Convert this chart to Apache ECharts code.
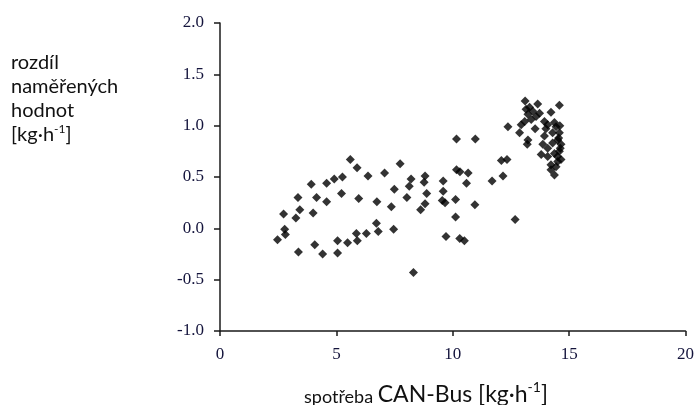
<!DOCTYPE html>
<html>
<head>
<meta charset="utf-8">
<script src="https://cdn.jsdelivr.net/npm/echarts@6/dist/echarts.min.js"></script>
<style>
  html, body { margin: 0; padding: 0; background: #fff; }
  #chart { width: 697px; height: 405px; }
</style>
</head>
<body>
<div id="chart"></div>
<script>
// Fuel consumption reported over CAN-Bus [kg/h]
const spotreba = [
  2.47, 2.78, 2.81, 2.73, 3.35, 3.43, 3.26, 3.37, 4.00, 4.15,
  3.92, 4.07, 4.41, 4.58, 4.58, 4.91, 5.26, 5.22, 5.05, 5.05,
  5.48, 5.60, 5.89, 5.96, 5.86, 5.90, 6.29, 6.36, 6.74, 6.72,
  6.80, 7.07, 7.36, 7.46, 7.49, 7.74, 8.03, 8.21, 8.13, 8.31,
  8.62, 8.81, 8.77, 8.88, 8.81, 9.59, 9.59, 9.55, 9.67, 9.71,
  10.12, 10.12, 10.30, 10.50, 10.16, 10.97, 12.37, 12.09, 12.33, 12.16,
  11.69, 10.16, 10.31, 10.66, 10.59, 10.95, 12.68, 13.11, 13.65, 14.58,
  14.22, 13.15, 13.23, 13.44, 13.73, 12.94, 13.09, 13.37, 13.58, 12.87,
  13.54, 13.94, 14.08, 14.37, 14.44, 13.23, 13.20, 13.94, 14.29, 14.58,
  13.87, 14.08, 14.29, 14.51, 14.65, 13.80, 14.08, 14.37, 14.58, 14.22,
  14.51, 14.65, 14.22, 14.37, 14.44, 14.60, 14.55, 14.62, 14.50, 13.30,
  14.00
];
// Difference of the measured values [kg/h]
const rozdil = [
  -0.11, -0.01, -0.06, 0.14, 0.30, 0.18, 0.10, -0.23, 0.15, 0.30,
  0.43, -0.16, -0.25, 0.44, 0.26, 0.48, 0.50, 0.34, -0.12, -0.24,
  -0.14, 0.67, 0.59, 0.29, -0.05, -0.12, -0.05, 0.51, 0.26, 0.05,
  -0.03, 0.54, 0.21, -0.01, 0.38, 0.63, 0.30, 0.48, 0.41, -0.43,
  0.18, 0.51, 0.45, 0.34, 0.24, 0.46, 0.36, 0.27, 0.25, -0.08,
  0.28, 0.11, -0.10, -0.12, 0.87, 0.87, 0.99, 0.66, 0.67, 0.51,
  0.46, 0.57, 0.55, 0.54, 0.44, 0.23, 0.085, 1.24, 1.21, 1.20,
  1.13, 1.16, 1.11, 1.14, 1.12, 1.01, 1.04, 1.06, 1.09, 0.93,
  0.97, 1.04, 1.01, 1.03, 0.99, 0.86, 0.82, 0.90, 0.93, 0.93,
  0.82, 0.78, 0.83, 0.86, 0.82, 0.72, 0.70, 0.73, 0.75, 0.62,
  0.65, 0.67, 0.57, 0.52, 0.60, 1.00, 0.88, 0.78, 0.70, 1.18,
  0.97
];
const xTicks = [0, 5, 10, 15, 20];
const yTicks = [-1.0, -0.5, 0.0, 0.5, 1.0, 1.5, 2.0];

const points = spotreba.map((x, i) => [x, rozdil[i]]);

const axisColor = '#1a1a1a';
const labelColor = '#14143c';
const serif = '"Liberation Serif", "Times New Roman", serif';
const sans = 'Lato, "Open Sans", "Liberation Sans", sans-serif';

const chart = echarts.init(document.getElementById('chart'), null, { renderer: 'canvas' });

chart.setOption({
  animation: false,
  backgroundColor: '#fff',
  grid: { left: 220, right: 8, top: 23, bottom: 74, containLabel: false },
  xAxis: {
    type: 'value',
    min: xTicks[0],
    max: xTicks[xTicks.length - 1],
    interval: xTicks[1] - xTicks[0],
    axisLine: { show: true, onZero: false, lineStyle: { color: axisColor, width: 1.5 } },
    axisTick: { show: true, inside: false, length: 5, lineStyle: { color: axisColor, width: 1.5 } },
    axisLabel: { color: labelColor, fontFamily: serif, fontSize: 17, margin: 15 },
    splitLine: { show: false }
  },
  yAxis: {
    type: 'value',
    min: yTicks[0],
    max: yTicks[yTicks.length - 1],
    interval: yTicks[1] - yTicks[0],
    axisLine: { show: true, onZero: false, lineStyle: { color: axisColor, width: 1.5 } },
    axisTick: { show: true, inside: false, length: 6, lineStyle: { color: axisColor, width: 1.5 } },
    axisLabel: {
      color: labelColor, fontFamily: serif, fontSize: 17, margin: 16,
      formatter: v => v.toFixed(1)
    },
    splitLine: { show: false }
  },
  graphic: [
    {
      type: 'text',
      left: 11,
      top: 53,
      style: {
        text: '{t|rozdíl}\n{t|naměřených}\n{t|hodnot}\n{t|[kg·h}{s|-1}{t|]}',
        rich: {
          t: { fontFamily: sans, fontSize: 20, lineHeight: 24, fill: '#111' },
          s: { fontFamily: sans, fontSize: 12, lineHeight: 14, verticalAlign: 'top', fill: '#111' }
        }
      }
    },
    {
      type: 'text',
      x: 426,
      y: 393,
      style: {
        text: '{a|spotřeba }{b|CAN-Bus [kg·h}{s|-1}{b|]}',
        align: 'center',
        verticalAlign: 'middle',
        rich: {
          a: { fontFamily: sans, fontSize: 18, lineHeight: 26, verticalAlign: 'bottom', fill: '#111' },
          b: { fontFamily: sans, fontSize: 23, lineHeight: 26, verticalAlign: 'bottom', fill: '#111' },
          s: { fontFamily: sans, fontSize: 14, lineHeight: 15, verticalAlign: 'top', fill: '#111' }
        }
      }
    }
  ],
  series: [
    {
      type: 'scatter',
      data: points,
      symbol: 'diamond',
      symbolSize: 9,
      itemStyle: { color: '#000' },
      emphasis: { disabled: true }
    }
  ]
});
</script>
</body>
</html>
